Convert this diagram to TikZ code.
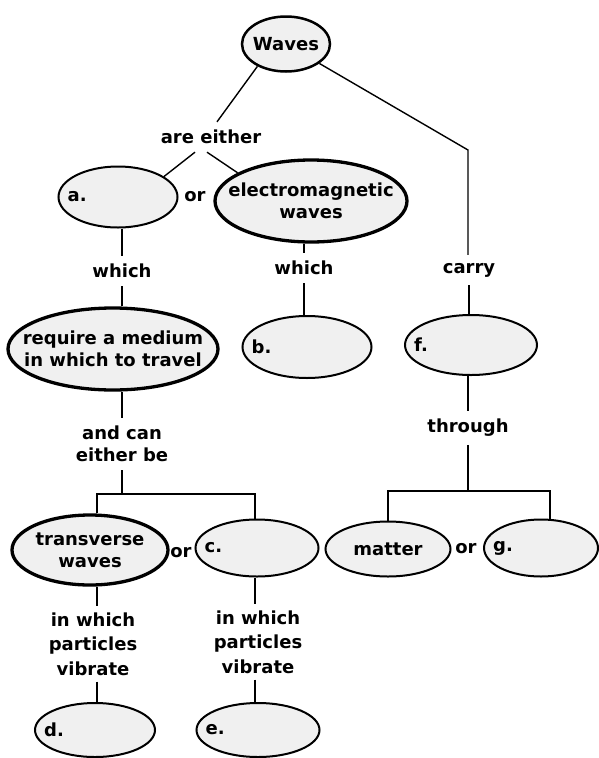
\documentclass[tikz,border=0pt]{standalone}
\usepackage{fontspec}
\newfontfamily\hand{DejaVu Sans}[FakeStretch=1.0]
\usetikzlibrary{shapes.geometric}
\begin{document}
\begin{tikzpicture}[x=1pt,y=-1pt,
  every node/.style={font=\hand\bfseries\fontsize{18}{22}\selectfont},
  oval/.style={ellipse, draw, fill=black!6, line width=2pt, inner sep=0pt},
  bold/.style={oval, line width=3.3pt},
  txt/.style={align=center, inner xsep=2pt, inner ysep=8pt},
  tag/.style={anchor=west, inner sep=0pt, xshift=10pt},
  link/.style={line width=1.4pt}]
\useasboundingbox (0,0) rectangle (599,758);

% concept ovals
\node[oval, line width=2.5pt, minimum width=88pt, minimum height=55pt,
      label={center:Waves}] (waves) at (286,44) {};
\node[oval, minimum width=119pt, minimum height=61pt, label={[tag]west:a.}] (a) at (118,197) {};
\node[bold, minimum width=192pt, minimum height=82pt,
      label={[align=center]center:electromagnetic\\waves}] (em) at (311,201) {};
\node[bold, minimum width=210pt, minimum height=82pt,
      label={[align=center]center:require a medium\\in which to travel}] (require) at (113,349) {};
\node[oval, minimum width=129pt, minimum height=62pt, label={[tag]west:b.}] (b) at (307,347) {};
\node[oval, minimum width=132pt, minimum height=60pt, label={[tag]west:f.}] (f) at (471,345) {};
\node[bold, minimum width=156pt, minimum height=70pt,
      label={[align=center]center:transverse\\waves}] (trans) at (90,550) {};
\node[oval, minimum width=123pt, minimum height=57pt, label={[tag]west:c.}] (c) at (257,548) {};
\node[oval, minimum width=125pt, minimum height=55pt, label={center:matter}] (matter) at (388,549) {};
\node[oval, minimum width=114pt, minimum height=57pt, label={[tag]west:g.}] (g) at (541,548) {};
\node[oval, minimum width=120pt, minimum height=54pt, label={[tag]west:d.}] (d) at (95,730) {};
\node[oval, minimum width=123pt, minimum height=54pt, label={[tag]west:e.}] (e) at (258,730) {};

% linking words
\node[txt] (areeither) at (211,137) {are either};
\node (or1) at (195,197) {or};
\node[txt] (which1) at (122,271) {which};
\node[txt] (which2) at (304,268) {which};
\node[txt] (carry) at (469,270) {carry};
\node[txt] (andcan) at (122,444) {and can\\either be};
\node[txt] (through) at (468,428) {through};
\node (or2) at (181,553) {or};
\node (or3) at (466,549) {or};
\node[txt, font=\hand\bfseries\fontsize{18}{24.5}\selectfont, inner ysep=6pt] (inwhich1) at (93,644) {in which\\particles\\vibrate};
\node[txt, font=\hand\bfseries\fontsize{18}{24.5}\selectfont, inner ysep=6pt] (inwhich2) at (258,642) {in which\\particles\\vibrate};

% connectors
\coordinate (bend) at (468,150);
\coordinate (brL) at (97,494);
\coordinate (brR) at (255,494);
\coordinate (brL2) at (388,491);
\coordinate (brR2) at (550,491);

\draw[link] (waves.218) -- ([xshift=6pt]areeither.north);
\draw[link] ([xshift=-16pt]areeither.south) -- (a.24);
\draw[link] ([xshift=-4pt]areeither.south) -- (em.159);
\draw[link] (waves) -- (bend) -- (bend |- carry.north);
\draw[link] (which1.north |- a.south) -- (which1.north);
\draw[link] (which1.south) -- (which1.south |- require.north);
\draw[link] (which2.north |- em.south) -- (which2.north);
\draw[link] (which2.south) -- (which2.south |- b.north);
\draw[link] (carry.south) -- (carry.south |- f.north);
\draw[link] (through.north |- f.south) -- (through.north);
\draw[link] (andcan.north |- require.south) -- (andcan.north);
\draw[link] (andcan.south) -- (andcan.south |- brL);
\draw[link] (brL |- trans.north) -- (brL) -- (brR) -- (brR |- c.north);
\draw[link] (through.south) -- (through.south |- brL2);
\draw[link] (brL2 |- matter.north) -- (brL2) -- (brR2) -- (brR2 |- g.north);
\draw[link] (brL |- trans.south) -- (brL |- inwhich1.north);
\draw[link] (brL |- inwhich1.south) -- (brL |- d.north);
\draw[link] (brR |- c.south) -- (brR |- inwhich2.north);
\draw[link] (brR |- inwhich2.south) -- (brR |- e.north);
\end{tikzpicture}
\end{document}
